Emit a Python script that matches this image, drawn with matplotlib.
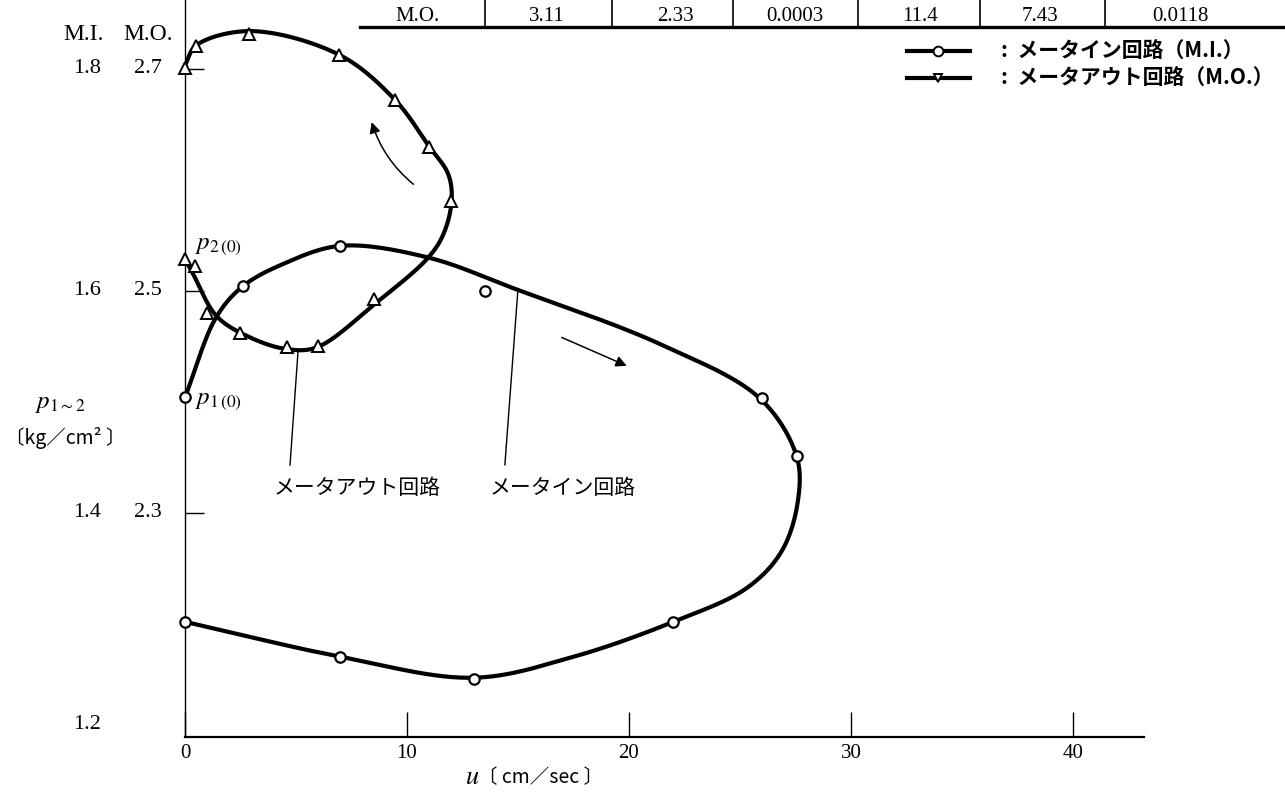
import numpy as np
import matplotlib
matplotlib.use("Agg")
import matplotlib.pyplot as plt
from matplotlib.lines import Line2D
from matplotlib.font_manager import FontProperties

# ---------------- data ----------------
# meter-in circuit (M.I. scale), measured points
mi_u = [0, 2.6, 7.0, 13.5, 26.0, 27.55, 22.0, 13.0, 7.0, 0]
mi_p = [1.504, 1.604, 1.6405, 1.600, 1.503, 1.451, 1.3018, 1.2505, 1.270, 1.3018]
# meter-in faired curve path
mi_curve_u = [0, 1.4, 2.6, 4.4, 7.0, 10.95, 14.9, 21.4, 25.9, 27.55, 27.61,
              26.89, 25.32, 22.0, 17.5, 13.0, 7.0, 0]
mi_curve_p = [1.504, 1.576, 1.604, 1.624, 1.6405, 1.630, 1.6015, 1.552, 1.503, 1.451,
              1.4108, 1.3658, 1.3324, 1.3018, 1.2703, 1.2514, 1.2703, 1.3018]

# meter-out circuit (M.O. scale), measured points
mo_u = [0, 0.46, 0.98, 2.48, 4.58, 6.0, 8.51, 11.98, 11.0, 9.46, 6.95, 2.9, 0.5, 0]
mo_p = [2.529, 2.522, 2.480, 2.462, 2.4495, 2.4505, 2.4925, 2.581, 2.630, 2.672,
        2.7126, 2.731, 2.721, 2.701]
# meter-out faired curve path
mo_curve_u = [0, 0.37, 1.43, 2.93, 4.58, 5.93, 8.63, 10.96, 11.64, 12.01, 11.86,
              11.0, 9.46, 6.95, 2.93, 0.5, 0]
mo_curve_p = [2.529, 2.515, 2.477, 2.458, 2.4475, 2.449, 2.4895, 2.530, 2.551, 2.581,
              2.605, 2.630, 2.672, 2.7126, 2.734, 2.721, 2.703]

MO_OFFSET = 0.9  # M.O. scale = M.I. scale + 0.9

x_ticks = [0, 10, 20, 30, 40]
mi_tick_vals = [1.2, 1.4, 1.6, 1.8]
mo_tick_vals = [None, 2.3, 2.5, 2.7]

table_head = "M.O."
table_vals = ["3.11", "2.33", "0.0003", "11.4", "7.43", "0.0118"]

# ---------------- helpers ----------------
def catmull_rom(xs, ys, sx, sy, n=30, alpha=0.5):
    P = np.column_stack([np.asarray(xs) * sx, np.asarray(ys) * sy]).astype(float)
    P = np.vstack([2 * P[0] - P[1], P, 2 * P[-1] - P[-2]])
    out = []
    for i in range(1, len(P) - 2):
        p0, p1, p2, p3 = P[i - 1], P[i], P[i + 1], P[i + 2]
        t0 = 0.0
        t1 = t0 + max(np.linalg.norm(p1 - p0), 1e-6) ** alpha
        t2 = t1 + max(np.linalg.norm(p2 - p1), 1e-6) ** alpha
        t3 = t2 + max(np.linalg.norm(p3 - p2), 1e-6) ** alpha
        t = np.linspace(t1, t2, n)[:, None]
        A1 = (t1 - t) / (t1 - t0) * p0 + (t - t0) / (t1 - t0) * p1
        A2 = (t2 - t) / (t2 - t1) * p1 + (t - t1) / (t2 - t1) * p2
        A3 = (t3 - t) / (t3 - t2) * p2 + (t - t2) / (t3 - t2) * p3
        B1 = (t2 - t) / (t2 - t0) * A1 + (t - t0) / (t2 - t0) * A2
        B2 = (t3 - t) / (t3 - t1) * A2 + (t - t1) / (t3 - t1) * A3
        C = (t2 - t) / (t2 - t1) * B1 + (t - t1) / (t2 - t1) * B2
        out.append(C if i == 1 else C[1:])
    C = np.vstack(out)
    return C[:, 0] / sx, C[:, 1] / sy

W, H = 1285, 794
def fx(px):
    return px / W
def fy(py):
    return 1 - py / H

plt.rcParams['mathtext.fontset'] = 'stix'
serif = 'Liberation Serif'
jp = ['Noto Sans CJK JP', 'DejaVu Sans']

fig = plt.figure(figsize=(W / 100, H / 100), dpi=100)
ax = fig.add_axes([fx(185), fy(737), (1144 - 185) / W, 737 / H])
ax.set_xlim(0, 43.2)
ax.set_ylim(1.198, 1.862)
ax.patch.set_alpha(0)
for s in ['top', 'right']:
    ax.spines[s].set_visible(False)
ax.spines['left'].set_linewidth(1.0)
ax.spines['bottom'].set_linewidth(1.6)

# curves
SX, SY = 22.2, 1110.0
cu, cp = catmull_rom(mi_curve_u, mi_curve_p, SX, SY)
ax.plot(cu, cp, color='black', lw=3.0, solid_capstyle='round', zorder=3)
ou, op = catmull_rom(mo_curve_u, np.asarray(mo_curve_p) - MO_OFFSET, SX, SY)
ax.plot(ou, op, color='black', lw=3.0, solid_capstyle='round', zorder=3)

ax.plot(mi_u, mi_p, linestyle='none', marker='o', ms=7.5, mfc='white',
        mec='black', mew=1.6, zorder=5, clip_on=False)
ax.plot(mo_u, np.asarray(mo_p) - MO_OFFSET, linestyle='none', marker='^', ms=8,
        mfc='white', mec='black', mew=1.4, zorder=5, clip_on=False)

# ticks
ax.set_xticks(x_ticks)
ax.set_xticklabels([str(v) for v in x_ticks], fontfamily=serif, fontsize=15)
ax.tick_params(axis='x', direction='in', length=18, width=1.0, pad=5)
ax.set_yticks([1.4, 1.6, 1.8])
ax.set_yticklabels([])
ax.tick_params(axis='y', direction='in', length=14, width=1.0)

ytr = ax.get_yaxis_transform()
for v_mi, v_mo in zip(mi_tick_vals, mo_tick_vals):
    yy = v_mi if v_mi > 1.21 else v_mi + 0.009
    ax.text(-0.102, yy, f"{v_mi:.1f}", transform=ytr, ha='center', va='center',
            fontfamily=serif, fontsize=16)
    if v_mo is not None:
        ax.text(-0.0386, yy, f"{v_mo:.1f}", transform=ytr, ha='center', va='center',
                fontfamily=serif, fontsize=16)
ax.text(-0.106, 1.831, "M.I.", transform=ytr, ha='center', va='center',
        fontfamily=serif, fontsize=17)
ax.text(-0.0386, 1.831, "M.O.", transform=ytr, ha='center', va='center',
        fontfamily=serif, fontsize=17)

# axis labels
ax.text(-0.130, 1.499, r'$p_{1\sim2}$', transform=ytr, ha='center', va='center',
        fontsize=18)
ax.text(-0.125, 1.4675, '〔kg／cm² 〕', transform=ytr, ha='center', va='center',
        family=jp, fontsize=14)
fig.text(fx(472), fy(777), r'$u$', ha='center', va='center', fontsize=19)
fig.text(fx(540), fy(778), '〔 cm／sec 〕', ha='center', va='center', family=jp,
         fontsize=14)

# point labels
ax.text(0.45, 1.6414, r'$p_{2\,(0)}$', ha='left', va='center', fontsize=18)
ax.text(0.45, 1.5018, r'$p_{1\,(0)}$', ha='left', va='center', fontsize=18)

# direction arrows
ax.annotate('', xy=(8.41, 1.752), xytext=(10.29, 1.696),
            arrowprops=dict(arrowstyle='-|>', color='black', lw=1.1,
                            mutation_scale=16, shrinkA=0, shrinkB=0,
                            connectionstyle='arc3,rad=-0.15'))
ax.annotate('', xy=(19.9, 1.5324), xytext=(16.97, 1.558),
            arrowprops=dict(arrowstyle='-|>', color='black', lw=1.1,
                            mutation_scale=16, shrinkA=0, shrinkB=0))

# leader lines and curve names
ax.plot([5.09, 4.73], [1.545, 1.443], color='black', lw=1.0)
ax.plot([15.0, 14.41], [1.6018, 1.4432], color='black', lw=1.0)
ax.text(7.75, 1.4225, 'メータアウト回路', ha='center', va='center', family=jp,
        fontsize=15)
ax.text(17.03, 1.4225, 'メータイン回路', ha='center', va='center', family=jp,
        fontsize=15)

# legend
h1 = Line2D([], [], color='black', lw=3.0, marker='o', ms=7, mfc='white',
            mec='black', mew=1.4)
h2 = Line2D([], [], color='black', lw=3.0, marker='v', ms=6, mfc='white',
            mec='black', mew=1.4)
leg = ax.legend([h1, h2], [':  メータイン回路（M.I.）', ':  メータアウト回路（M.O.）'],
                loc='upper left', bbox_to_anchor=(fx(907), fy(41)),
                bbox_transform=fig.transFigure, frameon=False, numpoints=1,
                handlelength=3.0, handletextpad=1.5, labelspacing=0.3,
                borderpad=0, borderaxespad=0,
                prop=FontProperties(family=jp, weight='bold', size=15))

# partial table at top
fig.add_artist(Line2D([fx(360), fx(1285)], [fy(27), fy(27)], color='black', lw=2.4,
                      transform=fig.transFigure))
for xp in [485, 612, 733, 858, 980, 1105]:
    fig.add_artist(Line2D([fx(xp), fx(xp)], [fy(0), fy(27)], color='black', lw=1.2,
                          transform=fig.transFigure))
fig.text(fx(418), fy(21), table_head, ha='center', va='baseline', fontfamily=serif,
         fontsize=15)
for xc, t in zip([547, 675, 795, 920, 1040, 1180], table_vals):
    fig.text(fx(xc), fy(21), t, ha='center', va='baseline', fontfamily=serif,
             fontsize=15)

fig.savefig('out.png', dpi=100)
